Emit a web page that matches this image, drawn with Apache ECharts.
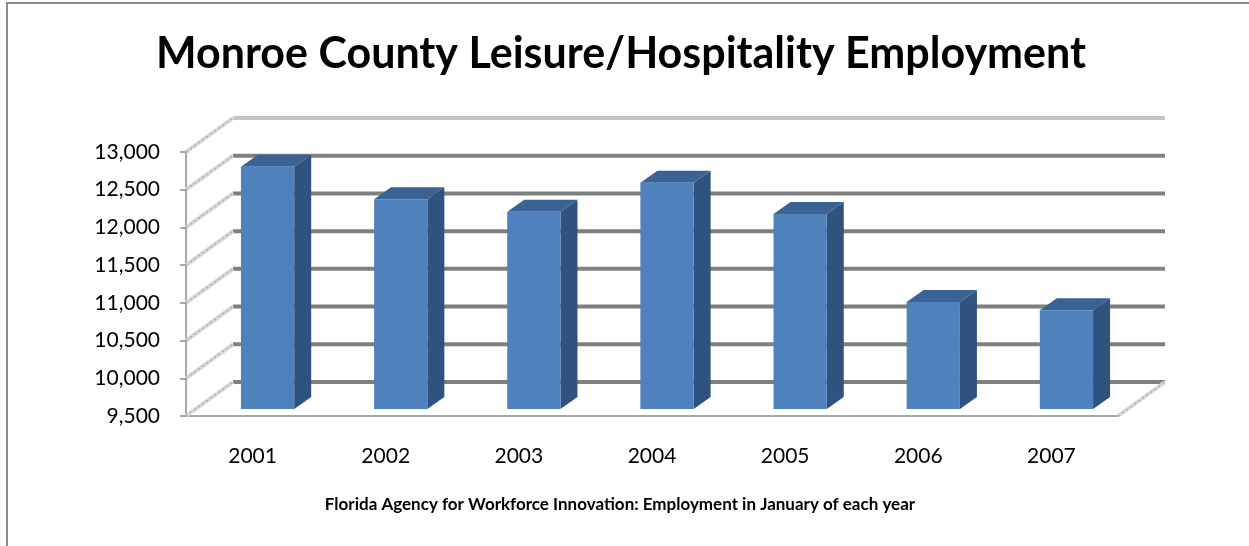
<!DOCTYPE html>
<html>
<head>
<meta charset="utf-8">
<title>Monroe County Leisure/Hospitality Employment</title>
<script src="https://cdn.jsdelivr.net/npm/echarts@6/dist/echarts.min.js"></script>
<style>
    html, body { margin: 0; padding: 0; background: #fff; }
    #chart { width: 1249px; height: 546px; }
</style>
</head>
<body>
<div id="chart"></div>
<script>
    // data
    var years = ['2001', '2002', '2003', '2004', '2005', '2006', '2007'];
    var employment = [12710, 12280, 12115, 12500, 12085, 10920, 10810];
    var yTicks = [9500, 10000, 10500, 11000, 11500, 12000, 12500, 13000];

    var titleText = 'Monroe County Leisure/Hospitality Employment';
    var subText = 'Florida Agency for Workforce Innovation: Employment in January of each year';

    // 3d look: back wall offset and bar depth
    var WALL_DX = 47, WALL_DY = -34;
    var BAR_DX = 17, BAR_DY = -12;
    var BAR_FRONT_DY = -7, BAR_SHIFT = 15, BAR_RATIO = 0.4;

    var myChart = echarts.init(document.getElementById('chart'));

    function wallItem(params, api) {
        var cs = params.coordSys;
        var v = api.value(0);
        var y = api.coord([0, v])[1];
        var x0 = cs.x, x1 = cs.x + cs.width;
        var isTop = v === yTicks[yTicks.length - 1];
        var children = [
            // back wall grid line
            {
                type: 'line',
                shape: { x1: x0 + WALL_DX, y1: y + WALL_DY, x2: x1 + WALL_DX, y2: y + WALL_DY },
                style: { stroke: isTop ? '#c4c4c4' : '#7f7f7f', lineWidth: 4 }
            },
            // side wall line
            {
                type: 'line',
                shape: { x1: x0, y1: y, x2: x0 + WALL_DX, y2: y + WALL_DY },
                style: { stroke: '#d6d6d6', lineWidth: 4 }
            },
            {
                type: 'line',
                shape: { x1: x0, y1: y, x2: x0 + WALL_DX, y2: y + WALL_DY },
                style: { stroke: '#9a9a9a', lineWidth: 1, lineDash: [2, 3] }
            }
        ];
        if (v === yTicks[0]) {
            // floor edge on the right
            children.push({
                type: 'line',
                shape: { x1: x1, y1: y, x2: x1 + WALL_DX, y2: y + WALL_DY },
                style: { stroke: '#d6d6d6', lineWidth: 4 }
            }, {
                type: 'line',
                shape: { x1: x1, y1: y, x2: x1 + WALL_DX, y2: y + WALL_DY },
                style: { stroke: '#9a9a9a', lineWidth: 1, lineDash: [2, 3] }
            });
        }
        return { type: 'group', children: children };
    }

    function barItem(params, api) {
        var idx = api.value(0);
        var top = api.coord([idx, api.value(1)]);
        var base = api.coord([idx, yTicks[0]]);
        var w = api.size([1, 0])[0] * BAR_RATIO;
        var left = top[0] + BAR_SHIFT - w / 2;
        var right = left + w;
        var yt = top[1] + BAR_FRONT_DY;
        var yb = base[1] + BAR_FRONT_DY;
        return {
            type: 'group',
            children: [
                {
                    type: 'polygon',
                    shape: { points: [[right, yt], [right + BAR_DX, yt + BAR_DY], [right + BAR_DX, yb + BAR_DY], [right, yb]] },
                    style: { fill: '#30527e' }
                },
                {
                    type: 'polygon',
                    shape: { points: [[left, yt], [left + BAR_DX, yt + BAR_DY], [right + BAR_DX, yt + BAR_DY], [right, yt]] },
                    style: { fill: '#3a6294' }
                },
                {
                    type: 'rect',
                    shape: { x: left, y: yt, width: w, height: yb - yt },
                    style: { fill: '#4f81bd' }
                }
            ]
        };
    }

    var option = {
        animation: false,
        title: [
            {
                text: titleText,
                left: 616,
                top: 28,
                textAlign: 'center',
                textStyle: {
                    fontFamily: 'Lato',
                    fontWeight: 'bold',
                    fontSize: 43,
                    color: '#000'
                }
            },
            {
                text: subText,
                left: 615,
                top: 491,
                textAlign: 'center',
                textStyle: {
                    fontFamily: 'Lato',
                    fontWeight: 'bold',
                    fontSize: 17,
                    color: '#000'
                }
            }
        ],
        grid: {
            left: 186,
            right: 131,
            top: 152,
            bottom: 130,
            containLabel: false
        },
        xAxis: {
            type: 'category',
            data: years,
            boundaryGap: true,
            axisLine: { lineStyle: { color: '#8c8c8c', width: 1.5 } },
            axisTick: { length: 7, lineStyle: { color: '#8c8c8c', width: 1.5 } },
            axisLabel: {
                margin: 30,
                fontFamily: 'Lato',
                fontSize: 21,
                color: '#000'
            },
            splitLine: { show: false }
        },
        yAxis: {
            type: 'value',
            min: 9500,
            max: 13000,
            interval: 500,
            axisLine: { show: true, lineStyle: { color: '#8c8c8c', width: 1.5 } },
            axisTick: { show: true, length: 6, lineStyle: { color: '#8c8c8c', width: 1.5 } },
            axisLabel: {
                margin: 26,
                fontFamily: 'Lato',
                fontSize: 21,
                color: '#000',
                formatter: function (v) {
                    return v.toLocaleString('en-US');
                }
            },
            splitLine: { show: false }
        },
        graphic: [
            {
                // chart area border (left and top)
                type: 'polyline',
                shape: { points: [[7, 546], [7, 3], [1249, 3]] },
                style: { stroke: '#8c8c8c', lineWidth: 2, fill: null },
                silent: true
            }
        ],
        series: [
            {
                type: 'custom',
                name: 'walls',
                renderItem: wallItem,
                data: yTicks.map(function (v) { return [v]; }),
                encode: { y: 0 },
                z: 1,
                silent: true
            },
            {
                type: 'custom',
                name: 'Employment',
                renderItem: barItem,
                data: employment.map(function (v, i) { return [i, v]; }),
                encode: { x: 0, y: 1 },
                z: 3
            }
        ]
    };

    myChart.setOption(option);
    window.addEventListener('resize', function () {
        myChart.resize();
    });
</script>
</body>
</html>
